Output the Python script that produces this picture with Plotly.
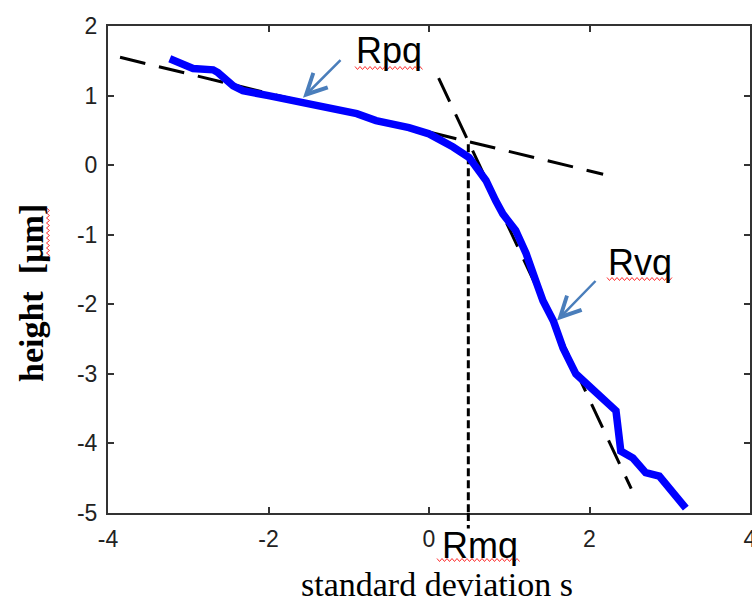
import plotly.graph_objects as go

# ---- data ----
curve_x = [-3.23, -2.94, -2.69, -2.63, -2.44, -2.32, -2.0, -1.61, -1.2, -0.9, -0.66,
           -0.25, 0.0, 0.17, 0.3, 0.50, 0.71, 0.83, 0.92, 1.08, 1.21, 1.33, 1.42,
           1.55, 1.67, 1.83, 1.96, 2.17, 2.33, 2.39, 2.54, 2.70, 2.87, 3.20]
curve_y = [1.53, 1.39, 1.37, 1.33, 1.14, 1.07, 1.0, 0.90, 0.81, 0.74, 0.64,
           0.54, 0.45, 0.35, 0.26, 0.11, -0.22, -0.51, -0.70, -0.94, -1.27, -1.66, -1.95,
           -2.24, -2.63, -3.0, -3.14, -3.39, -3.53, -4.11, -4.21, -4.42, -4.47, -4.93]

rpq_x = [-3.85, 2.17]
rpq_y = [1.55, -0.13]
rvq_x = [0.12, 2.52]
rvq_y = [1.25, -4.65]
rmq_x = [0.49, 0.49]
rmq_y = [0.30, -5.0]

x_ticks = [-4, -2, 0, 2, 4]
y_ticks = [2, 1, 0, -1, -2, -3, -4, -5]

W, H = 752, 605
L, R, T, B = 108, 2, 26, 92
PW, PH = W - L - R, H - T - B


def px(xp):
    return (xp - L) / PW


def py(yp):
    return (H - B - yp) / PH


fig = go.Figure()

fig.add_trace(go.Scatter(x=rpq_x, y=rpq_y, mode="lines",
                         line=dict(color="black", width=3, dash="26px,14px"),
                         showlegend=False, hoverinfo="skip"))
fig.add_trace(go.Scatter(x=rvq_x, y=rvq_y, mode="lines",
                         line=dict(color="black", width=3, dash="26px,14px"),
                         showlegend=False, hoverinfo="skip"))
fig.add_trace(go.Scatter(x=rmq_x, y=rmq_y, mode="lines",
                         line=dict(color="black", width=3, dash="8px,4px"),
                         showlegend=False, hoverinfo="skip"))
fig.add_trace(go.Scatter(x=curve_x, y=curve_y, mode="lines",
                         line=dict(color="#0000ff", width=7.5),
                         showlegend=False))

# short extension of the Rmq dotted line below the axis
fig.add_shape(type="line", xref="x", yref="paper", x0=rmq_x[0], x1=rmq_x[0],
              y0=0, y1=-0.032, line=dict(color="black", width=3, dash="8px,4px"))

# labels
lab_font = dict(family="Liberation Sans, Arial, sans-serif", size=36, color="black")
fig.add_annotation(x=-0.50, y=1.648, text="Rpq", showarrow=False, font=lab_font,
                   xanchor="center", yanchor="middle")
fig.add_annotation(x=2.63, y=-1.40, text="Rvq", showarrow=False, font=lab_font,
                   xanchor="center", yanchor="middle")
fig.add_annotation(x=0.636, xref="x", yref="paper", y=py(545), text="Rmq",
                   showarrow=False, font=lab_font, xanchor="center", yanchor="middle")

# arrows
arrow_col = "#4a7ebb"
fig.add_annotation(x=-1.57, y=0.97, ax=39, ay=-39, text="", showarrow=True,
                   arrowhead=5, arrowsize=1.6, arrowwidth=2.5, arrowcolor=arrow_col)
fig.add_annotation(x=1.595, y=-2.233, ax=40, ay=-41, text="", showarrow=True,
                   arrowhead=5, arrowsize=1.6, arrowwidth=2.5, arrowcolor=arrow_col)

# axis titles
fig.add_annotation(xref="paper", yref="paper", x=px(437), y=py(584),
                   text="standard deviation s", showarrow=False,
                   font=dict(family="Liberation Serif, Times New Roman, serif", size=34, color="black"),
                   xanchor="center", yanchor="middle")
fig.add_annotation(xref="paper", yref="paper", x=px(31), y=py(293),
                   text="<b>height  [µm]</b>", showarrow=False, textangle=-90,
                   font=dict(family="Liberation Serif, Times New Roman, serif", size=34, color="black"),
                   xanchor="center", yanchor="middle")


# red spell-check wavy underlines (decoration)
def wavy_h(x0, x1, y, amp=1.5, step=2.5):
    pts = []
    xp = x0
    up = True
    while xp <= x1:
        pts.append((px(xp), py(y - amp if up else y + amp)))
        up = not up
        xp += step
    return "M " + " L ".join(f"{a:.5f},{b:.5f}" for a, b in pts)


def wavy_v(x, y0, y1, amp=1.5, step=2.5):
    pts = []
    yp = y0
    up = True
    while yp <= y1:
        pts.append((px(x - amp if up else x + amp), py(yp)))
        up = not up
        yp += step
    return "M " + " L ".join(f"{a:.5f},{b:.5f}" for a, b in pts)


for path in [wavy_h(355, 423, 68), wavy_h(607, 673, 279), wavy_h(437, 520, 560),
             wavy_v(48, 208, 262)]:
    fig.add_shape(type="path", xref="paper", yref="paper", path=path,
                  line=dict(color="#ff3030", width=1))

tick_font = dict(family="Liberation Sans, Arial, sans-serif", size=23, color="#222222")
fig.update_xaxes(range=[-4, 4], tickvals=x_ticks, ticktext=[str(v) for v in x_ticks],
                 ticks="inside", ticklen=6, tickwidth=1.5, tickcolor="#333333",
                 showline=True, linecolor="#333333", linewidth=2, mirror="ticks",
                 showgrid=False, zeroline=False, tickfont=tick_font,
                 ticklabelstandoff=4, ticklabeloverflow="allow")
fig.update_yaxes(range=[-5, 2], tickvals=y_ticks, ticktext=[str(v) for v in y_ticks],
                 ticks="inside", ticklen=6, tickwidth=1.5, tickcolor="#333333",
                 showline=True, linecolor="#333333", linewidth=2, mirror="ticks",
                 showgrid=False, zeroline=False, tickfont=tick_font,
                 ticklabelstandoff=4, ticklabeloverflow="allow")

fig.update_layout(width=W, height=H, margin=dict(l=L, r=R, t=T, b=B, autoexpand=False),
                  paper_bgcolor="white", plot_bgcolor="white", showlegend=False)

fig.write_html("out.html")
